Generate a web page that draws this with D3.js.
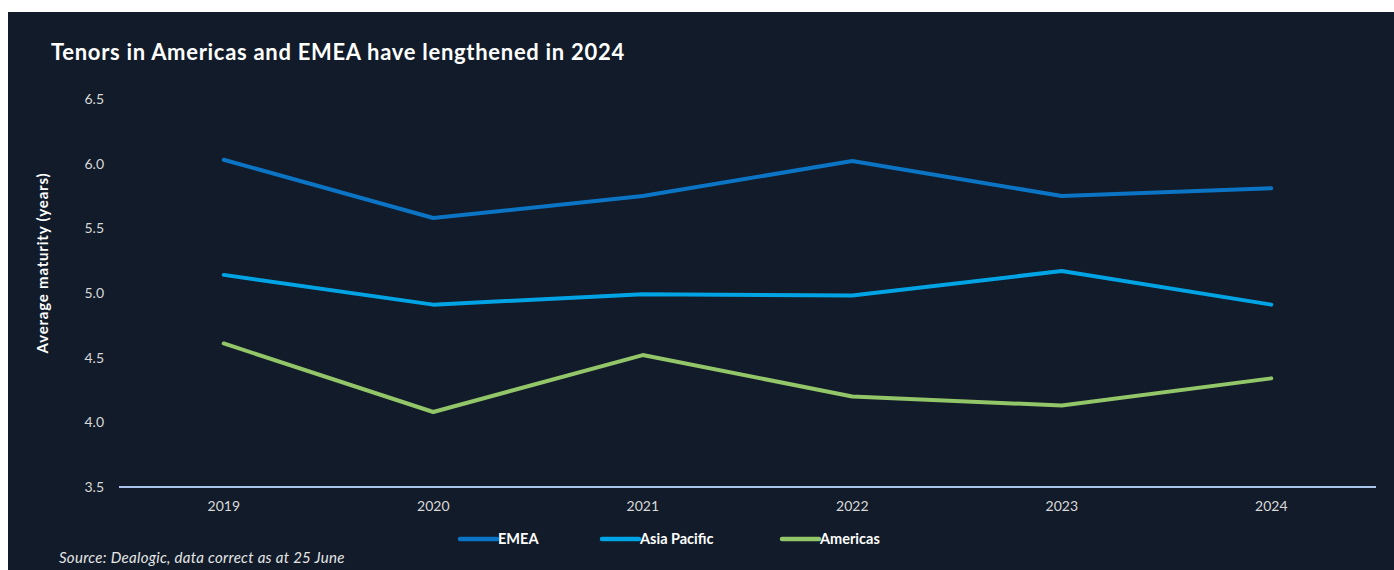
<!DOCTYPE html>
<html>
<head>
<meta charset="utf-8">
<script src="https://cdn.jsdelivr.net/npm/d3@7"></script>
<style>
    body { margin: 0; background: #ffffff; }
    svg { display: block; font-family: Lato, "Open Sans", sans-serif; }
</style>
</head>
<body>
<svg id="chart" width="1394" height="570"></svg>
<script>
var years = ["2019", "2020", "2021", "2022", "2023", "2024"]
var emea = [6.03, 5.58, 5.75, 6.02, 5.75, 5.81]
var asiaPacific = [5.14, 4.91, 4.99, 4.98, 5.17, 4.91]
var americas = [4.61, 4.08, 4.52, 4.20, 4.13, 4.34]
var yTicks = [3.5, 4.0, 4.5, 5.0, 5.5, 6.0, 6.5]

var series = [
    { name: "EMEA", values: emea, color: "#0b74c4" },
    { name: "Asia Pacific", values: asiaPacific, color: "#00a4e4" },
    { name: "Americas", values: americas, color: "#92c668" }
]

var svg = d3.select("#chart")

// dark panel with thin white frame on top/left
svg.append("rect")
    .attr("x", 8).attr("y", 12)
    .attr("width", 1394 - 8).attr("height", 570 - 12)
    .attr("fill", "#111b29")

svg.append("text")
    .attr("x", 51).attr("y", 60)
    .attr("fill", "#ffffff")
    .style("font-size", "22px")
    .style("font-weight", "bold")
    .style("letter-spacing", "0.7px")
    .text("Tenors in Americas and EMEA have lengthened in 2024")

var x = d3.scaleBand()
    .domain(years)
    .range([119, 1376])
    .padding(0)

var y = d3.scaleLinear()
    .domain([3.5, 6.5])
    .range([487, 99])

// y tick labels, no axis line
var yAxis = svg.append("g")
    .attr("transform", "translate(119,0)")
    .call(d3.axisLeft(y).tickValues(yTicks).tickFormat(d3.format(".1f")).tickSize(0).tickPadding(15))
yAxis.select(".domain").remove()
yAxis.selectAll("text")
    .attr("fill", "#d9d9d9")
    .style("font-size", "14px")
    .style("font-family", "Lato, sans-serif")

// baseline
svg.append("line")
    .attr("x1", x.range()[0]).attr("x2", x.range()[1])
    .attr("y1", y(3.5)).attr("y2", y(3.5))
    .attr("stroke", "#a9c3ea")
    .attr("stroke-width", 2)

var xAxis = svg.append("g")
    .attr("transform", `translate(0,${y(3.5)})`)
    .call(d3.axisBottom(x).tickSize(0).tickPadding(14))
xAxis.select(".domain").remove()
xAxis.selectAll("text")
    .attr("fill", "#d9d9d9")
    .style("font-size", "14px")
    .style("font-family", "Lato, sans-serif")

svg.append("text")
    .attr("transform", "translate(48,263) rotate(-90)")
    .attr("text-anchor", "middle")
    .attr("fill", "#ffffff")
    .style("font-size", "15px")
    .style("font-weight", "bold")
    .style("letter-spacing", "0.8px")
    .text("Average maturity (years)")

var line = d3.line()
    .x((d, i) => x(years[i]) + x.bandwidth() / 2)
    .y(d => y(d))

svg.selectAll(".series")
    .data(series)
    .enter().append("path")
    .attr("class", "series")
    .attr("d", d => line(d.values))
    .attr("fill", "none")
    .attr("stroke", d => d.color)
    .attr("stroke-width", 4)
    .attr("stroke-linecap", "round")
    .attr("stroke-linejoin", "round")

// legend
var legendX = [460, 602, 782]
var legend = svg.selectAll(".legend")
    .data(series)
    .enter().append("g")
    .attr("class", "legend")
    .attr("transform", (d, i) => `translate(${legendX[i]},539)`)

legend.append("line")
    .attr("x1", 0).attr("x2", 37)
    .attr("stroke", d => d.color)
    .attr("stroke-width", 4.5)
    .attr("stroke-linecap", "round")

legend.append("text")
    .attr("x", 38)
    .attr("dy", "0.35em")
    .attr("fill", "#ffffff")
    .style("font-size", "14.5px")
    .style("font-weight", "bold")
    .text(d => d.name)

svg.append("text")
    .attr("x", 59).attr("y", 563)
    .attr("fill", "#e6e6e6")
    .style("font-size", "15px")
    .style("font-style", "italic")
    .style("letter-spacing", "0.3px")
    .text("Source: Dealogic, data correct as at 25 June")
</script>
</body>
</html>
